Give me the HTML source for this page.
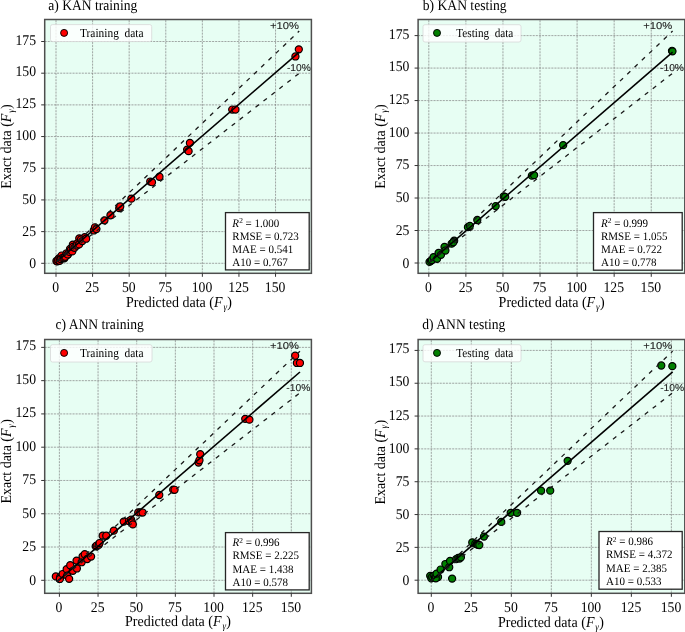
<!DOCTYPE html><html><head><meta charset="utf-8"><title>KAN vs ANN</title><style>html,body{margin:0;padding:0;background:#fff;overflow:hidden}svg{display:block;will-change:transform}text{text-rendering:geometricPrecision}</style></head><body>
<svg width="685" height="632" viewBox="0 0 685 632">
<defs>
<clipPath id="clipa"><rect x="44.7" y="19.5" width="266.7" height="253.8"/></clipPath>
<clipPath id="clipb"><rect x="418.1" y="19.5" width="266.7" height="253.8"/></clipPath>
<clipPath id="clipc"><rect x="44.7" y="339.5" width="266.7" height="253.8"/></clipPath>
<clipPath id="clipd"><rect x="418.1" y="339.5" width="266.7" height="253.8"/></clipPath>
</defs>
<g id="panel-a">
<rect x="44.7" y="19.5" width="266.7" height="253.8" fill="#e7fef3"/>
<g clip-path="url(#clipa)" stroke="#dfece6" stroke-width="0.9" fill="none">
<line x1="56" y1="273.3" x2="56" y2="19.5"/>
<line x1="44.7" y1="263.3" x2="311.4" y2="263.3"/>
<line x1="92.59" y1="273.3" x2="92.59" y2="19.5"/>
<line x1="44.7" y1="231.62" x2="311.4" y2="231.62"/>
<line x1="129.18" y1="273.3" x2="129.18" y2="19.5"/>
<line x1="44.7" y1="199.93" x2="311.4" y2="199.93"/>
<line x1="165.77" y1="273.3" x2="165.77" y2="19.5"/>
<line x1="44.7" y1="168.25" x2="311.4" y2="168.25"/>
<line x1="202.36" y1="273.3" x2="202.36" y2="19.5"/>
<line x1="44.7" y1="136.56" x2="311.4" y2="136.56"/>
<line x1="238.95" y1="273.3" x2="238.95" y2="19.5"/>
<line x1="44.7" y1="104.88" x2="311.4" y2="104.88"/>
<line x1="275.54" y1="273.3" x2="275.54" y2="19.5"/>
<line x1="44.7" y1="73.19" x2="311.4" y2="73.19"/>
<line x1="44.7" y1="41.5" x2="311.4" y2="41.5"/>
</g>
<g clip-path="url(#clipa)" stroke="#737a77" stroke-width="0.6" stroke-dasharray="1.9 1.2" fill="none">
<line x1="56" y1="273.3" x2="56" y2="19.5"/>
<line x1="44.7" y1="263.3" x2="311.4" y2="263.3"/>
<line x1="92.59" y1="273.3" x2="92.59" y2="19.5"/>
<line x1="44.7" y1="231.62" x2="311.4" y2="231.62"/>
<line x1="129.18" y1="273.3" x2="129.18" y2="19.5"/>
<line x1="44.7" y1="199.93" x2="311.4" y2="199.93"/>
<line x1="165.77" y1="273.3" x2="165.77" y2="19.5"/>
<line x1="44.7" y1="168.25" x2="311.4" y2="168.25"/>
<line x1="202.36" y1="273.3" x2="202.36" y2="19.5"/>
<line x1="44.7" y1="136.56" x2="311.4" y2="136.56"/>
<line x1="238.95" y1="273.3" x2="238.95" y2="19.5"/>
<line x1="44.7" y1="104.88" x2="311.4" y2="104.88"/>
<line x1="275.54" y1="273.3" x2="275.54" y2="19.5"/>
<line x1="44.7" y1="73.19" x2="311.4" y2="73.19"/>
<line x1="44.7" y1="41.5" x2="311.4" y2="41.5"/>
</g>
<g clip-path="url(#clipa)" fill="#ff0000" stroke="#000" stroke-width="1.2">
<circle cx="56.44" cy="261.02" r="3.55"/>
<circle cx="58.78" cy="258.36" r="3.55"/>
<circle cx="61.56" cy="255.57" r="3.55"/>
<circle cx="64.34" cy="258.36" r="3.55"/>
<circle cx="67.71" cy="254.94" r="3.55"/>
<circle cx="70.05" cy="248.85" r="3.55"/>
<circle cx="72.83" cy="244.67" r="3.55"/>
<circle cx="79.27" cy="238.33" r="3.55"/>
<circle cx="84.69" cy="237.19" r="3.55"/>
<circle cx="77.22" cy="243.4" r="3.55"/>
<circle cx="57.46" cy="261.4" r="3.55"/>
<circle cx="58.2" cy="260.26" r="3.55"/>
<circle cx="59.66" cy="260.77" r="3.55"/>
<circle cx="60.68" cy="259.12" r="3.55"/>
<circle cx="62.59" cy="257.98" r="3.55"/>
<circle cx="64.05" cy="257.6" r="3.55"/>
<circle cx="65.22" cy="256.71" r="3.55"/>
<circle cx="66.54" cy="253.29" r="3.55"/>
<circle cx="67.71" cy="254.43" r="3.55"/>
<circle cx="69.47" cy="251.89" r="3.55"/>
<circle cx="70.93" cy="249.99" r="3.55"/>
<circle cx="72.25" cy="251.39" r="3.55"/>
<circle cx="72.98" cy="246.95" r="3.55"/>
<circle cx="74.44" cy="247.84" r="3.55"/>
<circle cx="76.78" cy="245.56" r="3.55"/>
<circle cx="79.12" cy="244.42" r="3.55"/>
<circle cx="81.03" cy="239.35" r="3.55"/>
<circle cx="82.34" cy="241.12" r="3.55"/>
<circle cx="86.15" cy="238.71" r="3.55"/>
<circle cx="93.76" cy="230.47" r="3.55"/>
<circle cx="94.93" cy="227.31" r="3.55"/>
<circle cx="96.4" cy="229.08" r="3.55"/>
<circle cx="104.45" cy="220.34" r="3.55"/>
<circle cx="110.45" cy="215.27" r="3.55"/>
<circle cx="119.23" cy="208.17" r="3.55"/>
<circle cx="120.25" cy="206.52" r="3.55"/>
<circle cx="131.38" cy="198.66" r="3.55"/>
<circle cx="150.26" cy="181.55" r="3.55"/>
<circle cx="152.01" cy="182.19" r="3.55"/>
<circle cx="159.48" cy="176.74" r="3.55"/>
<circle cx="187.14" cy="149.61" r="3.55"/>
<circle cx="188.6" cy="151.14" r="3.55"/>
<circle cx="189.92" cy="142.9" r="3.55"/>
<circle cx="232.22" cy="109.56" r="3.55"/>
<circle cx="235.44" cy="109.56" r="3.55"/>
<circle cx="295.44" cy="56.46" r="3.55"/>
<circle cx="298.81" cy="49.36" r="3.55"/>
</g>
<g clip-path="url(#clipa)" fill="none" stroke="#000">
<line x1="56.82" y1="261.65" x2="299.25" y2="52.15" stroke-width="1.6"/>
<line x1="56.82" y1="261.49" x2="299.25" y2="31.04" stroke-width="1.3" stroke-dasharray="4.3 5.77" stroke="#1a1a1a"/>
<line x1="56.82" y1="261.82" x2="299.25" y2="73.27" stroke-width="1.3" stroke-dasharray="4.3 5.77" stroke="#1a1a1a"/>
</g>
<text x="299" y="28.9" font-family="'Liberation Sans', sans-serif" font-size="10px" fill="#222" stroke="#222" stroke-width="0.1" text-anchor="end" textLength="29" lengthAdjust="spacingAndGlyphs">+10%</text>
<text x="298.9" y="70.8" font-family="'Liberation Sans', sans-serif" font-size="10px" fill="#222" stroke="#222" stroke-width="0.1" text-anchor="middle" textLength="24" lengthAdjust="spacingAndGlyphs">-10%</text>
<rect x="50.5" y="24.6" width="101.2" height="17" rx="2" ry="2" fill="#fff" fill-opacity="0.8" stroke="#d8d8d8" stroke-width="0.8"/>
<circle cx="64.1" cy="32.9" r="3.5" fill="#ff0000" stroke="#000" stroke-width="0.95"/>
<text x="80" y="36.7" font-family="'Liberation Serif', serif" font-size="12.4px" fill="#000" textLength="63.5" lengthAdjust="spacingAndGlyphs" xml:space="preserve">Training  data</text>
<rect x="225.5" y="212.6" width="83.7" height="57.3" fill="#fff" stroke="#262626" stroke-width="1.3"/>
<text transform="translate(232.3,226.5) scale(1,1.04)" font-family="'Liberation Serif', serif" font-size="11px" fill="#000"><tspan font-style="italic">R</tspan><tspan font-size="7.4px" dx="0.1" dy="-3.3">2</tspan><tspan dy="3.3"> = 1.000</tspan></text>
<text transform="translate(232.3,239.7) scale(1,1.04)" font-family="'Liberation Serif', serif" font-size="11px" fill="#000">RMSE = 0.723</text>
<text transform="translate(232.3,252.9) scale(1,1.04)" font-family="'Liberation Serif', serif" font-size="11px" fill="#000">MAE = 0.541</text>
<text transform="translate(232.3,266.1) scale(1,1.04)" font-family="'Liberation Serif', serif" font-size="11px" fill="#000">A10 = 0.767</text>
<rect x="44.7" y="19.5" width="266.7" height="253.8" fill="none" stroke="#4e4e4e" stroke-width="1.5"/>
<g stroke="#333" stroke-width="1">
<line x1="56" y1="273.3" x2="56" y2="276.8"/>
<line x1="44.7" y1="263.3" x2="41.2" y2="263.3"/>
<line x1="92.59" y1="273.3" x2="92.59" y2="276.8"/>
<line x1="44.7" y1="231.62" x2="41.2" y2="231.62"/>
<line x1="129.18" y1="273.3" x2="129.18" y2="276.8"/>
<line x1="44.7" y1="199.93" x2="41.2" y2="199.93"/>
<line x1="165.77" y1="273.3" x2="165.77" y2="276.8"/>
<line x1="44.7" y1="168.25" x2="41.2" y2="168.25"/>
<line x1="202.36" y1="273.3" x2="202.36" y2="276.8"/>
<line x1="44.7" y1="136.56" x2="41.2" y2="136.56"/>
<line x1="238.95" y1="273.3" x2="238.95" y2="276.8"/>
<line x1="44.7" y1="104.88" x2="41.2" y2="104.88"/>
<line x1="275.54" y1="273.3" x2="275.54" y2="276.8"/>
<line x1="44.7" y1="73.19" x2="41.2" y2="73.19"/>
<line x1="44.7" y1="41.5" x2="41.2" y2="41.5"/>
</g>
<g font-family="'Liberation Serif', serif" font-size="13.7px" fill="#000">
<text transform="translate(55.6,292.3) scale(1,1.08)" text-anchor="middle">0</text>
<text transform="translate(36,267.9) scale(1,1.08)" text-anchor="end">0</text>
<text transform="translate(92.19,292.3) scale(1,1.08)" text-anchor="middle">25</text>
<text transform="translate(36,235.99) scale(1,1.08)" text-anchor="end">25</text>
<text transform="translate(128.78,292.3) scale(1,1.08)" text-anchor="middle">50</text>
<text transform="translate(36,204.07) scale(1,1.08)" text-anchor="end">50</text>
<text transform="translate(165.37,292.3) scale(1,1.08)" text-anchor="middle">75</text>
<text transform="translate(36,172.16) scale(1,1.08)" text-anchor="end">75</text>
<text transform="translate(201.96,292.3) scale(1,1.08)" text-anchor="middle">100</text>
<text transform="translate(36,140.25) scale(1,1.08)" text-anchor="end">100</text>
<text transform="translate(238.55,292.3) scale(1,1.08)" text-anchor="middle">125</text>
<text transform="translate(36,108.33) scale(1,1.08)" text-anchor="end">125</text>
<text transform="translate(275.14,292.3) scale(1,1.08)" text-anchor="middle">150</text>
<text transform="translate(36,76.42) scale(1,1.08)" text-anchor="end">150</text>
<text transform="translate(36,44.5) scale(1,1.08)" text-anchor="end">175</text>
</g>
<text transform="translate(179,307.3) scale(1,1.08)" font-family="'Liberation Serif', serif" font-size="14px" text-anchor="middle" fill="#000" textLength="106" lengthAdjust="spacing">Predicted data (<tspan font-style="italic">F</tspan><tspan font-size="9px" font-style="italic" dx="0.8" dy="2.6">γ</tspan><tspan dx="0.4" dy="-2.6">)</tspan></text>
<text transform="translate(11.1,146.5) rotate(-90) scale(1,1.08)" x="0" y="0" font-family="'Liberation Serif', serif" font-size="14px" text-anchor="middle" fill="#000" textLength="84.5" lengthAdjust="spacing">Exact data (<tspan font-style="italic">F</tspan><tspan font-size="9px" font-style="italic" dx="0.8" dy="2.6">γ</tspan><tspan dx="0.4" dy="-2.6">)</tspan></text>
<text transform="translate(48.2,10) scale(1,1.08)" font-family="'Liberation Serif', serif" font-size="13.6px" fill="#000">a) KAN training</text>
</g>
<g id="panel-b">
<rect x="418.1" y="19.5" width="266.7" height="253.8" fill="#e7fef3"/>
<g clip-path="url(#clipb)" stroke="#dfece6" stroke-width="0.9" fill="none">
<line x1="428.8" y1="273.3" x2="428.8" y2="19.5"/>
<line x1="418.1" y1="263" x2="684.8" y2="263"/>
<line x1="465.88" y1="273.3" x2="465.88" y2="19.5"/>
<line x1="418.1" y1="230.51" x2="684.8" y2="230.51"/>
<line x1="502.95" y1="273.3" x2="502.95" y2="19.5"/>
<line x1="418.1" y1="198.03" x2="684.8" y2="198.03"/>
<line x1="540.02" y1="273.3" x2="540.02" y2="19.5"/>
<line x1="418.1" y1="165.54" x2="684.8" y2="165.54"/>
<line x1="577.1" y1="273.3" x2="577.1" y2="19.5"/>
<line x1="418.1" y1="133.06" x2="684.8" y2="133.06"/>
<line x1="614.17" y1="273.3" x2="614.17" y2="19.5"/>
<line x1="418.1" y1="100.57" x2="684.8" y2="100.57"/>
<line x1="651.25" y1="273.3" x2="651.25" y2="19.5"/>
<line x1="418.1" y1="68.09" x2="684.8" y2="68.09"/>
<line x1="418.1" y1="35.6" x2="684.8" y2="35.6"/>
</g>
<g clip-path="url(#clipb)" stroke="#737a77" stroke-width="0.6" stroke-dasharray="1.9 1.2" fill="none">
<line x1="428.8" y1="273.3" x2="428.8" y2="19.5"/>
<line x1="418.1" y1="263" x2="684.8" y2="263"/>
<line x1="465.88" y1="273.3" x2="465.88" y2="19.5"/>
<line x1="418.1" y1="230.51" x2="684.8" y2="230.51"/>
<line x1="502.95" y1="273.3" x2="502.95" y2="19.5"/>
<line x1="418.1" y1="198.03" x2="684.8" y2="198.03"/>
<line x1="540.02" y1="273.3" x2="540.02" y2="19.5"/>
<line x1="418.1" y1="165.54" x2="684.8" y2="165.54"/>
<line x1="577.1" y1="273.3" x2="577.1" y2="19.5"/>
<line x1="418.1" y1="133.06" x2="684.8" y2="133.06"/>
<line x1="614.17" y1="273.3" x2="614.17" y2="19.5"/>
<line x1="418.1" y1="100.57" x2="684.8" y2="100.57"/>
<line x1="651.25" y1="273.3" x2="651.25" y2="19.5"/>
<line x1="418.1" y1="68.09" x2="684.8" y2="68.09"/>
<line x1="418.1" y1="35.6" x2="684.8" y2="35.6"/>
</g>
<g clip-path="url(#clipb)" fill="#008000" stroke="#000" stroke-width="1.2">
<circle cx="429.54" cy="261.83" r="3.55"/>
<circle cx="431.02" cy="260.92" r="3.55"/>
<circle cx="431.91" cy="260.01" r="3.55"/>
<circle cx="433.55" cy="257.15" r="3.55"/>
<circle cx="437.1" cy="258.84" r="3.55"/>
<circle cx="438.59" cy="252.86" r="3.55"/>
<circle cx="440.96" cy="254.81" r="3.55"/>
<circle cx="444.52" cy="246.89" r="3.55"/>
<circle cx="445.41" cy="250.53" r="3.55"/>
<circle cx="451.64" cy="243.64" r="3.55"/>
<circle cx="454.16" cy="240.65" r="3.55"/>
<circle cx="453.27" cy="242.21" r="3.55"/>
<circle cx="467.95" cy="227.14" r="3.55"/>
<circle cx="469.88" cy="225.84" r="3.55"/>
<circle cx="477.29" cy="219.99" r="3.55"/>
<circle cx="495.68" cy="206.09" r="3.55"/>
<circle cx="503.69" cy="196.34" r="3.55"/>
<circle cx="505.17" cy="196.86" r="3.55"/>
<circle cx="531.87" cy="175.68" r="3.55"/>
<circle cx="534.09" cy="175.16" r="3.55"/>
<circle cx="563.16" cy="145.14" r="3.55"/>
<circle cx="672.01" cy="50.81" r="3.55"/>
<circle cx="672.46" cy="51.33" r="3.55"/>
</g>
<g clip-path="url(#clipb)" fill="none" stroke="#000">
<line x1="430.24" y1="261.7" x2="672.61" y2="52.11" stroke-width="1.6"/>
<line x1="430.24" y1="261.57" x2="672.61" y2="31.02" stroke-width="1.3" stroke-dasharray="4.3 5.77" stroke="#1a1a1a"/>
<line x1="430.24" y1="261.83" x2="672.61" y2="73.2" stroke-width="1.3" stroke-dasharray="4.3 5.77" stroke="#1a1a1a"/>
</g>
<text x="672.2" y="29.1" font-family="'Liberation Sans', sans-serif" font-size="10px" fill="#222" stroke="#222" stroke-width="0.1" text-anchor="end" textLength="29" lengthAdjust="spacingAndGlyphs">+10%</text>
<text x="672" y="71.2" font-family="'Liberation Sans', sans-serif" font-size="10px" fill="#222" stroke="#222" stroke-width="0.1" text-anchor="middle" textLength="24" lengthAdjust="spacingAndGlyphs">-10%</text>
<rect x="423" y="24.7" width="98" height="17.3" rx="2" ry="2" fill="#fff" fill-opacity="0.8" stroke="#d8d8d8" stroke-width="0.8"/>
<circle cx="437" cy="32.9" r="3.5" fill="#008000" stroke="#000" stroke-width="0.95"/>
<text x="456.3" y="36.7" font-family="'Liberation Serif', serif" font-size="12.4px" fill="#000" textLength="57" lengthAdjust="spacingAndGlyphs" xml:space="preserve">Testing  data</text>
<rect x="593.5" y="212.6" width="88.7" height="57.6" fill="#fff" stroke="#262626" stroke-width="1.3"/>
<text transform="translate(601,226.5) scale(1,1.04)" font-family="'Liberation Serif', serif" font-size="11px" fill="#000"><tspan font-style="italic">R</tspan><tspan font-size="7.4px" dx="0.1" dy="-3.3">2</tspan><tspan dy="3.3"> = 0.999</tspan></text>
<text transform="translate(601,239.7) scale(1,1.04)" font-family="'Liberation Serif', serif" font-size="11px" fill="#000">RMSE = 1.055</text>
<text transform="translate(601,252.9) scale(1,1.04)" font-family="'Liberation Serif', serif" font-size="11px" fill="#000">MAE = 0.722</text>
<text transform="translate(601,266.1) scale(1,1.04)" font-family="'Liberation Serif', serif" font-size="11px" fill="#000">A10 = 0.778</text>
<rect x="418.1" y="19.5" width="266.7" height="253.8" fill="none" stroke="#4e4e4e" stroke-width="1.5"/>
<g stroke="#333" stroke-width="1">
<line x1="428.8" y1="273.3" x2="428.8" y2="276.8"/>
<line x1="418.1" y1="263" x2="414.6" y2="263"/>
<line x1="465.88" y1="273.3" x2="465.88" y2="276.8"/>
<line x1="418.1" y1="230.51" x2="414.6" y2="230.51"/>
<line x1="502.95" y1="273.3" x2="502.95" y2="276.8"/>
<line x1="418.1" y1="198.03" x2="414.6" y2="198.03"/>
<line x1="540.02" y1="273.3" x2="540.02" y2="276.8"/>
<line x1="418.1" y1="165.54" x2="414.6" y2="165.54"/>
<line x1="577.1" y1="273.3" x2="577.1" y2="276.8"/>
<line x1="418.1" y1="133.06" x2="414.6" y2="133.06"/>
<line x1="614.17" y1="273.3" x2="614.17" y2="276.8"/>
<line x1="418.1" y1="100.57" x2="414.6" y2="100.57"/>
<line x1="651.25" y1="273.3" x2="651.25" y2="276.8"/>
<line x1="418.1" y1="68.09" x2="414.6" y2="68.09"/>
<line x1="418.1" y1="35.6" x2="414.6" y2="35.6"/>
</g>
<g font-family="'Liberation Serif', serif" font-size="13.7px" fill="#000">
<text transform="translate(428.4,292.3) scale(1,1.08)" text-anchor="middle">0</text>
<text transform="translate(409.4,267.6) scale(1,1.08)" text-anchor="end">0</text>
<text transform="translate(465.48,292.3) scale(1,1.08)" text-anchor="middle">25</text>
<text transform="translate(409.4,234.89) scale(1,1.08)" text-anchor="end">25</text>
<text transform="translate(502.55,292.3) scale(1,1.08)" text-anchor="middle">50</text>
<text transform="translate(409.4,202.17) scale(1,1.08)" text-anchor="end">50</text>
<text transform="translate(539.62,292.3) scale(1,1.08)" text-anchor="middle">75</text>
<text transform="translate(409.4,169.46) scale(1,1.08)" text-anchor="end">75</text>
<text transform="translate(576.7,292.3) scale(1,1.08)" text-anchor="middle">100</text>
<text transform="translate(409.4,136.75) scale(1,1.08)" text-anchor="end">100</text>
<text transform="translate(613.77,292.3) scale(1,1.08)" text-anchor="middle">125</text>
<text transform="translate(409.4,104.03) scale(1,1.08)" text-anchor="end">125</text>
<text transform="translate(650.85,292.3) scale(1,1.08)" text-anchor="middle">150</text>
<text transform="translate(409.4,71.32) scale(1,1.08)" text-anchor="end">150</text>
<text transform="translate(409.4,38.6) scale(1,1.08)" text-anchor="end">175</text>
</g>
<text transform="translate(551.6,306.8) scale(1,1.08)" font-family="'Liberation Serif', serif" font-size="14px" text-anchor="middle" fill="#000" textLength="106" lengthAdjust="spacing">Predicted data (<tspan font-style="italic">F</tspan><tspan font-size="9px" font-style="italic" dx="0.8" dy="2.6">γ</tspan><tspan dx="0.4" dy="-2.6">)</tspan></text>
<text transform="translate(384.5,146.5) rotate(-90) scale(1,1.08)" x="0" y="0" font-family="'Liberation Serif', serif" font-size="14px" text-anchor="middle" fill="#000" textLength="84.5" lengthAdjust="spacing">Exact data (<tspan font-style="italic">F</tspan><tspan font-size="9px" font-style="italic" dx="0.8" dy="2.6">γ</tspan><tspan dx="0.4" dy="-2.6">)</tspan></text>
<text transform="translate(422.8,10.3) scale(1,1.08)" font-family="'Liberation Serif', serif" font-size="13.6px" fill="#000">b) KAN testing</text>
</g>
<g id="panel-c">
<rect x="44.7" y="339.5" width="266.7" height="253.8" fill="#e7fef3"/>
<g clip-path="url(#clipc)" stroke="#dfece6" stroke-width="0.9" fill="none">
<line x1="59.4" y1="593.3" x2="59.4" y2="339.5"/>
<line x1="44.7" y1="580.3" x2="311.4" y2="580.3"/>
<line x1="98.05" y1="593.3" x2="98.05" y2="339.5"/>
<line x1="44.7" y1="547.02" x2="311.4" y2="547.02"/>
<line x1="136.7" y1="593.3" x2="136.7" y2="339.5"/>
<line x1="44.7" y1="513.75" x2="311.4" y2="513.75"/>
<line x1="175.35" y1="593.3" x2="175.35" y2="339.5"/>
<line x1="44.7" y1="480.47" x2="311.4" y2="480.47"/>
<line x1="214" y1="593.3" x2="214" y2="339.5"/>
<line x1="44.7" y1="447.2" x2="311.4" y2="447.2"/>
<line x1="252.65" y1="593.3" x2="252.65" y2="339.5"/>
<line x1="44.7" y1="413.92" x2="311.4" y2="413.92"/>
<line x1="291.3" y1="593.3" x2="291.3" y2="339.5"/>
<line x1="44.7" y1="380.65" x2="311.4" y2="380.65"/>
<line x1="44.7" y1="347.38" x2="311.4" y2="347.38"/>
</g>
<g clip-path="url(#clipc)" stroke="#737a77" stroke-width="0.6" stroke-dasharray="1.9 1.2" fill="none">
<line x1="59.4" y1="593.3" x2="59.4" y2="339.5"/>
<line x1="44.7" y1="580.3" x2="311.4" y2="580.3"/>
<line x1="98.05" y1="593.3" x2="98.05" y2="339.5"/>
<line x1="44.7" y1="547.02" x2="311.4" y2="547.02"/>
<line x1="136.7" y1="593.3" x2="136.7" y2="339.5"/>
<line x1="44.7" y1="513.75" x2="311.4" y2="513.75"/>
<line x1="175.35" y1="593.3" x2="175.35" y2="339.5"/>
<line x1="44.7" y1="480.47" x2="311.4" y2="480.47"/>
<line x1="214" y1="593.3" x2="214" y2="339.5"/>
<line x1="44.7" y1="447.2" x2="311.4" y2="447.2"/>
<line x1="252.65" y1="593.3" x2="252.65" y2="339.5"/>
<line x1="44.7" y1="413.92" x2="311.4" y2="413.92"/>
<line x1="291.3" y1="593.3" x2="291.3" y2="339.5"/>
<line x1="44.7" y1="380.65" x2="311.4" y2="380.65"/>
<line x1="44.7" y1="347.38" x2="311.4" y2="347.38"/>
</g>
<g clip-path="url(#clipc)" fill="#ff0000" stroke="#000" stroke-width="1.2">
<circle cx="55.84" cy="576.44" r="3.55"/>
<circle cx="60.17" cy="577.24" r="3.55"/>
<circle cx="59.86" cy="578.97" r="3.55"/>
<circle cx="62.65" cy="574.04" r="3.55"/>
<circle cx="66.67" cy="569.25" r="3.55"/>
<circle cx="67.13" cy="575.64" r="3.55"/>
<circle cx="69.14" cy="578.84" r="3.55"/>
<circle cx="70.22" cy="565.26" r="3.55"/>
<circle cx="72.85" cy="570.85" r="3.55"/>
<circle cx="76.56" cy="560.6" r="3.55"/>
<circle cx="76.87" cy="568.45" r="3.55"/>
<circle cx="81.66" cy="562.2" r="3.55"/>
<circle cx="82.59" cy="556.34" r="3.55"/>
<circle cx="84.75" cy="554.21" r="3.55"/>
<circle cx="87.23" cy="559" r="3.55"/>
<circle cx="91.09" cy="556.61" r="3.55"/>
<circle cx="95.73" cy="546.36" r="3.55"/>
<circle cx="96.66" cy="545.56" r="3.55"/>
<circle cx="98.82" cy="544.76" r="3.55"/>
<circle cx="99.6" cy="543.03" r="3.55"/>
<circle cx="102.69" cy="535.71" r="3.55"/>
<circle cx="106.24" cy="535.71" r="3.55"/>
<circle cx="113.82" cy="530.65" r="3.55"/>
<circle cx="123.71" cy="521.6" r="3.55"/>
<circle cx="128.97" cy="521.07" r="3.55"/>
<circle cx="131.13" cy="519.74" r="3.55"/>
<circle cx="132.06" cy="522.4" r="3.55"/>
<circle cx="132.84" cy="524.4" r="3.55"/>
<circle cx="138.25" cy="512.42" r="3.55"/>
<circle cx="140.26" cy="512.42" r="3.55"/>
<circle cx="142.57" cy="512.55" r="3.55"/>
<circle cx="159.27" cy="494.98" r="3.55"/>
<circle cx="173.19" cy="489.66" r="3.55"/>
<circle cx="174.58" cy="489.79" r="3.55"/>
<circle cx="198.54" cy="462.51" r="3.55"/>
<circle cx="199.47" cy="460.24" r="3.55"/>
<circle cx="200.24" cy="454.25" r="3.55"/>
<circle cx="245.23" cy="418.85" r="3.55"/>
<circle cx="249.4" cy="419.65" r="3.55"/>
<circle cx="295.17" cy="355.76" r="3.55"/>
<circle cx="296.87" cy="362.95" r="3.55"/>
<circle cx="299.96" cy="362.95" r="3.55"/>
</g>
<g clip-path="url(#clipc)" fill="none" stroke="#000">
<line x1="56.83" y1="581.9" x2="299.96" y2="372" stroke-width="1.6"/>
<line x1="56.83" y1="582.06" x2="299.96" y2="351.17" stroke-width="1.3" stroke-dasharray="4.3 5.77" stroke="#1a1a1a"/>
<line x1="56.83" y1="581.74" x2="299.96" y2="392.83" stroke-width="1.3" stroke-dasharray="4.3 5.77" stroke="#1a1a1a"/>
</g>
<text x="299" y="348.5" font-family="'Liberation Sans', sans-serif" font-size="10px" fill="#222" stroke="#222" stroke-width="0.1" text-anchor="end" textLength="29" lengthAdjust="spacingAndGlyphs">+10%</text>
<text x="298.3" y="390.7" font-family="'Liberation Sans', sans-serif" font-size="10px" fill="#222" stroke="#222" stroke-width="0.1" text-anchor="middle" textLength="24" lengthAdjust="spacingAndGlyphs">-10%</text>
<rect x="50.5" y="344.7" width="101.5" height="17.3" rx="2" ry="2" fill="#fff" fill-opacity="0.8" stroke="#d8d8d8" stroke-width="0.8"/>
<circle cx="64.1" cy="352.9" r="3.5" fill="#ff0000" stroke="#000" stroke-width="0.95"/>
<text x="80" y="356.7" font-family="'Liberation Serif', serif" font-size="12.4px" fill="#000" textLength="63.5" lengthAdjust="spacingAndGlyphs" xml:space="preserve">Training  data</text>
<rect x="225.5" y="532.6" width="83.7" height="57.3" fill="#fff" stroke="#262626" stroke-width="1.3"/>
<text transform="translate(232.5,546.1) scale(1,1.04)" font-family="'Liberation Serif', serif" font-size="11px" fill="#000"><tspan font-style="italic">R</tspan><tspan font-size="7.4px" dx="0.1" dy="-3.3">2</tspan><tspan dy="3.3"> = 0.996</tspan></text>
<text transform="translate(232.5,559.3) scale(1,1.04)" font-family="'Liberation Serif', serif" font-size="11px" fill="#000">RMSE = 2.225</text>
<text transform="translate(232.5,572.5) scale(1,1.04)" font-family="'Liberation Serif', serif" font-size="11px" fill="#000">MAE = 1.438</text>
<text transform="translate(232.5,585.7) scale(1,1.04)" font-family="'Liberation Serif', serif" font-size="11px" fill="#000">A10 = 0.578</text>
<rect x="44.7" y="339.5" width="266.7" height="253.8" fill="none" stroke="#4e4e4e" stroke-width="1.5"/>
<g stroke="#333" stroke-width="1">
<line x1="59.4" y1="593.3" x2="59.4" y2="596.8"/>
<line x1="44.7" y1="580.3" x2="41.2" y2="580.3"/>
<line x1="98.05" y1="593.3" x2="98.05" y2="596.8"/>
<line x1="44.7" y1="547.02" x2="41.2" y2="547.02"/>
<line x1="136.7" y1="593.3" x2="136.7" y2="596.8"/>
<line x1="44.7" y1="513.75" x2="41.2" y2="513.75"/>
<line x1="175.35" y1="593.3" x2="175.35" y2="596.8"/>
<line x1="44.7" y1="480.47" x2="41.2" y2="480.47"/>
<line x1="214" y1="593.3" x2="214" y2="596.8"/>
<line x1="44.7" y1="447.2" x2="41.2" y2="447.2"/>
<line x1="252.65" y1="593.3" x2="252.65" y2="596.8"/>
<line x1="44.7" y1="413.92" x2="41.2" y2="413.92"/>
<line x1="291.3" y1="593.3" x2="291.3" y2="596.8"/>
<line x1="44.7" y1="380.65" x2="41.2" y2="380.65"/>
<line x1="44.7" y1="347.38" x2="41.2" y2="347.38"/>
</g>
<g font-family="'Liberation Serif', serif" font-size="13.7px" fill="#000">
<text transform="translate(59,612.3) scale(1,1.08)" text-anchor="middle">0</text>
<text transform="translate(36,584.9) scale(1,1.08)" text-anchor="end">0</text>
<text transform="translate(97.65,612.3) scale(1,1.08)" text-anchor="middle">25</text>
<text transform="translate(36,551.4) scale(1,1.08)" text-anchor="end">25</text>
<text transform="translate(136.3,612.3) scale(1,1.08)" text-anchor="middle">50</text>
<text transform="translate(36,517.89) scale(1,1.08)" text-anchor="end">50</text>
<text transform="translate(174.95,612.3) scale(1,1.08)" text-anchor="middle">75</text>
<text transform="translate(36,484.39) scale(1,1.08)" text-anchor="end">75</text>
<text transform="translate(213.6,612.3) scale(1,1.08)" text-anchor="middle">100</text>
<text transform="translate(36,450.89) scale(1,1.08)" text-anchor="end">100</text>
<text transform="translate(252.25,612.3) scale(1,1.08)" text-anchor="middle">125</text>
<text transform="translate(36,417.38) scale(1,1.08)" text-anchor="end">125</text>
<text transform="translate(290.9,612.3) scale(1,1.08)" text-anchor="middle">150</text>
<text transform="translate(36,383.88) scale(1,1.08)" text-anchor="end">150</text>
<text transform="translate(36,350.38) scale(1,1.08)" text-anchor="end">175</text>
</g>
<text transform="translate(178,626.2) scale(1,1.08)" font-family="'Liberation Serif', serif" font-size="14px" text-anchor="middle" fill="#000" textLength="106" lengthAdjust="spacing">Predicted data (<tspan font-style="italic">F</tspan><tspan font-size="9px" font-style="italic" dx="0.8" dy="2.6">γ</tspan><tspan dx="0.4" dy="-2.6">)</tspan></text>
<text transform="translate(11.1,461.3) rotate(-90) scale(1,1.08)" x="0" y="0" font-family="'Liberation Serif', serif" font-size="14px" text-anchor="middle" fill="#000" textLength="84.5" lengthAdjust="spacing">Exact data (<tspan font-style="italic">F</tspan><tspan font-size="9px" font-style="italic" dx="0.8" dy="2.6">γ</tspan><tspan dx="0.4" dy="-2.6">)</tspan></text>
<text transform="translate(55.5,328.5) scale(1,1.08)" font-family="'Liberation Serif', serif" font-size="13.6px" fill="#000">c) ANN training</text>
</g>
<g id="panel-d">
<rect x="418.1" y="339.5" width="266.7" height="253.8" fill="#e7fef3"/>
<g clip-path="url(#clipd)" stroke="#dfece6" stroke-width="0.9" fill="none">
<line x1="431.3" y1="593.3" x2="431.3" y2="339.5"/>
<line x1="418.1" y1="580.2" x2="684.8" y2="580.2"/>
<line x1="471.31" y1="593.3" x2="471.31" y2="339.5"/>
<line x1="418.1" y1="547.37" x2="684.8" y2="547.37"/>
<line x1="511.33" y1="593.3" x2="511.33" y2="339.5"/>
<line x1="418.1" y1="514.55" x2="684.8" y2="514.55"/>
<line x1="551.34" y1="593.3" x2="551.34" y2="339.5"/>
<line x1="418.1" y1="481.72" x2="684.8" y2="481.72"/>
<line x1="591.35" y1="593.3" x2="591.35" y2="339.5"/>
<line x1="418.1" y1="448.89" x2="684.8" y2="448.89"/>
<line x1="631.36" y1="593.3" x2="631.36" y2="339.5"/>
<line x1="418.1" y1="416.06" x2="684.8" y2="416.06"/>
<line x1="671.38" y1="593.3" x2="671.38" y2="339.5"/>
<line x1="418.1" y1="383.24" x2="684.8" y2="383.24"/>
<line x1="418.1" y1="350.41" x2="684.8" y2="350.41"/>
</g>
<g clip-path="url(#clipd)" stroke="#737a77" stroke-width="0.6" stroke-dasharray="1.9 1.2" fill="none">
<line x1="431.3" y1="593.3" x2="431.3" y2="339.5"/>
<line x1="418.1" y1="580.2" x2="684.8" y2="580.2"/>
<line x1="471.31" y1="593.3" x2="471.31" y2="339.5"/>
<line x1="418.1" y1="547.37" x2="684.8" y2="547.37"/>
<line x1="511.33" y1="593.3" x2="511.33" y2="339.5"/>
<line x1="418.1" y1="514.55" x2="684.8" y2="514.55"/>
<line x1="551.34" y1="593.3" x2="551.34" y2="339.5"/>
<line x1="418.1" y1="481.72" x2="684.8" y2="481.72"/>
<line x1="591.35" y1="593.3" x2="591.35" y2="339.5"/>
<line x1="418.1" y1="448.89" x2="684.8" y2="448.89"/>
<line x1="631.36" y1="593.3" x2="631.36" y2="339.5"/>
<line x1="418.1" y1="416.06" x2="684.8" y2="416.06"/>
<line x1="671.38" y1="593.3" x2="671.38" y2="339.5"/>
<line x1="418.1" y1="383.24" x2="684.8" y2="383.24"/>
<line x1="418.1" y1="350.41" x2="684.8" y2="350.41"/>
</g>
<g clip-path="url(#clipd)" fill="#008000" stroke="#000" stroke-width="1.2">
<circle cx="430.18" cy="575.87" r="3.55"/>
<circle cx="431.3" cy="578.23" r="3.55"/>
<circle cx="432.26" cy="576.79" r="3.55"/>
<circle cx="434.18" cy="575.74" r="3.55"/>
<circle cx="434.98" cy="577.71" r="3.55"/>
<circle cx="438.02" cy="577.05" r="3.55"/>
<circle cx="435.78" cy="578.36" r="3.55"/>
<circle cx="436.58" cy="573.63" r="3.55"/>
<circle cx="440.58" cy="569.56" r="3.55"/>
<circle cx="445.38" cy="564.05" r="3.55"/>
<circle cx="449.23" cy="567.2" r="3.55"/>
<circle cx="450.03" cy="560.9" r="3.55"/>
<circle cx="452.11" cy="578.62" r="3.55"/>
<circle cx="456.11" cy="559.19" r="3.55"/>
<circle cx="458.19" cy="557.88" r="3.55"/>
<circle cx="459.47" cy="558.53" r="3.55"/>
<circle cx="460.91" cy="557.22" r="3.55"/>
<circle cx="472.27" cy="542.38" r="3.55"/>
<circle cx="475.31" cy="543.7" r="3.55"/>
<circle cx="476.91" cy="543.96" r="3.55"/>
<circle cx="477.71" cy="544.75" r="3.55"/>
<circle cx="479.31" cy="545.01" r="3.55"/>
<circle cx="483.96" cy="536.61" r="3.55"/>
<circle cx="501.24" cy="521.9" r="3.55"/>
<circle cx="510.68" cy="512.84" r="3.55"/>
<circle cx="517.09" cy="512.84" r="3.55"/>
<circle cx="541.09" cy="490.65" r="3.55"/>
<circle cx="550.22" cy="490.65" r="3.55"/>
<circle cx="567.66" cy="460.84" r="3.55"/>
<circle cx="661.29" cy="365.51" r="3.55"/>
<circle cx="672.34" cy="366.16" r="3.55"/>
</g>
<g clip-path="url(#clipd)" fill="none" stroke="#000">
<line x1="430.21" y1="581.64" x2="672.66" y2="371.94" stroke-width="1.6"/>
<line x1="430.21" y1="581.79" x2="672.66" y2="351.12" stroke-width="1.3" stroke-dasharray="4.3 5.77" stroke="#1a1a1a"/>
<line x1="430.21" y1="581.5" x2="672.66" y2="392.77" stroke-width="1.3" stroke-dasharray="4.3 5.77" stroke="#1a1a1a"/>
</g>
<text x="672.2" y="348.5" font-family="'Liberation Sans', sans-serif" font-size="10px" fill="#222" stroke="#222" stroke-width="0.1" text-anchor="end" textLength="29" lengthAdjust="spacingAndGlyphs">+10%</text>
<text x="672.2" y="390.7" font-family="'Liberation Sans', sans-serif" font-size="10px" fill="#222" stroke="#222" stroke-width="0.1" text-anchor="middle" textLength="24" lengthAdjust="spacingAndGlyphs">-10%</text>
<rect x="423" y="344.7" width="98" height="17.1" rx="2" ry="2" fill="#fff" fill-opacity="0.8" stroke="#d8d8d8" stroke-width="0.8"/>
<circle cx="437" cy="352.9" r="3.5" fill="#008000" stroke="#000" stroke-width="0.95"/>
<text x="456.3" y="356.7" font-family="'Liberation Serif', serif" font-size="12.4px" fill="#000" textLength="57" lengthAdjust="spacingAndGlyphs" xml:space="preserve">Testing  data</text>
<rect x="599" y="531.5" width="83.2" height="57.7" fill="#fff" stroke="#262626" stroke-width="1.3"/>
<text transform="translate(606,545.1) scale(1,1.04)" font-family="'Liberation Serif', serif" font-size="11px" fill="#000"><tspan font-style="italic">R</tspan><tspan font-size="7.4px" dx="0.1" dy="-3.3">2</tspan><tspan dy="3.3"> = 0.986</tspan></text>
<text transform="translate(606,558.3) scale(1,1.04)" font-family="'Liberation Serif', serif" font-size="11px" fill="#000">RMSE = 4.372</text>
<text transform="translate(606,571.5) scale(1,1.04)" font-family="'Liberation Serif', serif" font-size="11px" fill="#000">MAE = 2.385</text>
<text transform="translate(606,584.7) scale(1,1.04)" font-family="'Liberation Serif', serif" font-size="11px" fill="#000">A10 = 0.533</text>
<rect x="418.1" y="339.5" width="266.7" height="253.8" fill="none" stroke="#4e4e4e" stroke-width="1.5"/>
<g stroke="#333" stroke-width="1">
<line x1="431.3" y1="593.3" x2="431.3" y2="596.8"/>
<line x1="418.1" y1="580.2" x2="414.6" y2="580.2"/>
<line x1="471.31" y1="593.3" x2="471.31" y2="596.8"/>
<line x1="418.1" y1="547.37" x2="414.6" y2="547.37"/>
<line x1="511.33" y1="593.3" x2="511.33" y2="596.8"/>
<line x1="418.1" y1="514.55" x2="414.6" y2="514.55"/>
<line x1="551.34" y1="593.3" x2="551.34" y2="596.8"/>
<line x1="418.1" y1="481.72" x2="414.6" y2="481.72"/>
<line x1="591.35" y1="593.3" x2="591.35" y2="596.8"/>
<line x1="418.1" y1="448.89" x2="414.6" y2="448.89"/>
<line x1="631.36" y1="593.3" x2="631.36" y2="596.8"/>
<line x1="418.1" y1="416.06" x2="414.6" y2="416.06"/>
<line x1="671.38" y1="593.3" x2="671.38" y2="596.8"/>
<line x1="418.1" y1="383.24" x2="414.6" y2="383.24"/>
<line x1="418.1" y1="350.41" x2="414.6" y2="350.41"/>
</g>
<g font-family="'Liberation Serif', serif" font-size="13.7px" fill="#000">
<text transform="translate(430.9,612.3) scale(1,1.08)" text-anchor="middle">0</text>
<text transform="translate(409.4,584.8) scale(1,1.08)" text-anchor="end">0</text>
<text transform="translate(470.91,612.3) scale(1,1.08)" text-anchor="middle">25</text>
<text transform="translate(409.4,551.74) scale(1,1.08)" text-anchor="end">25</text>
<text transform="translate(510.93,612.3) scale(1,1.08)" text-anchor="middle">50</text>
<text transform="translate(409.4,518.69) scale(1,1.08)" text-anchor="end">50</text>
<text transform="translate(550.94,612.3) scale(1,1.08)" text-anchor="middle">75</text>
<text transform="translate(409.4,485.63) scale(1,1.08)" text-anchor="end">75</text>
<text transform="translate(590.95,612.3) scale(1,1.08)" text-anchor="middle">100</text>
<text transform="translate(409.4,452.58) scale(1,1.08)" text-anchor="end">100</text>
<text transform="translate(630.96,612.3) scale(1,1.08)" text-anchor="middle">125</text>
<text transform="translate(409.4,419.52) scale(1,1.08)" text-anchor="end">125</text>
<text transform="translate(670.98,612.3) scale(1,1.08)" text-anchor="middle">150</text>
<text transform="translate(409.4,386.46) scale(1,1.08)" text-anchor="end">150</text>
<text transform="translate(409.4,353.41) scale(1,1.08)" text-anchor="end">175</text>
</g>
<text transform="translate(550.9,626.7) scale(1,1.08)" font-family="'Liberation Serif', serif" font-size="14px" text-anchor="middle" fill="#000" textLength="106" lengthAdjust="spacing">Predicted data (<tspan font-style="italic">F</tspan><tspan font-size="9px" font-style="italic" dx="0.8" dy="2.6">γ</tspan><tspan dx="0.4" dy="-2.6">)</tspan></text>
<text transform="translate(384.5,462.2) rotate(-90) scale(1,1.08)" x="0" y="0" font-family="'Liberation Serif', serif" font-size="14px" text-anchor="middle" fill="#000" textLength="84.5" lengthAdjust="spacing">Exact data (<tspan font-style="italic">F</tspan><tspan font-size="9px" font-style="italic" dx="0.8" dy="2.6">γ</tspan><tspan dx="0.4" dy="-2.6">)</tspan></text>
<text transform="translate(422.3,329) scale(1,1.08)" font-family="'Liberation Serif', serif" font-size="13.6px" fill="#000">d) ANN testing</text>
</g>
</svg></body></html>
